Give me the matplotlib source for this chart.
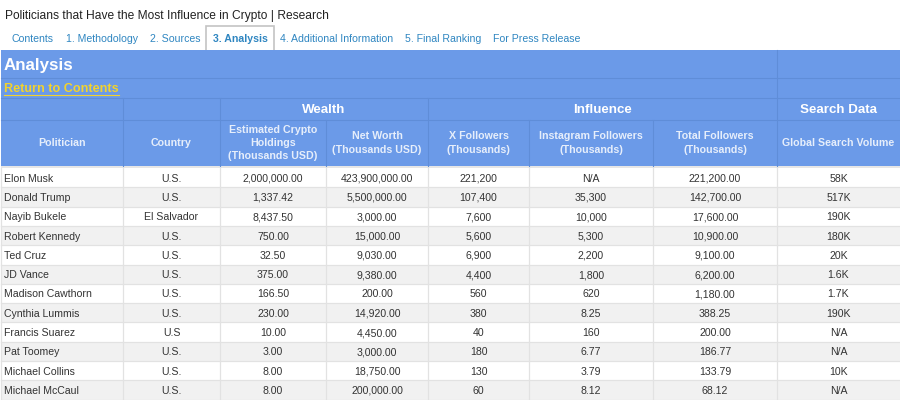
#! /usr/bin/env python3
# -*- coding: utf-8 -*-

import matplotlib
matplotlib.use('Agg')
import matplotlib.pyplot as plt
from matplotlib.patches import Rectangle

plt.rcParams['font.family'] = ['Liberation Sans', 'DejaVu Sans']

title = 'Politicians that Have the Most Influence in Crypto | Research'
tabs = ['Contents', '1. Methodology', '2. Sources', '3. Analysis',
        '4. Additional Information', '5. Final Ranking', 'For Press Release']
groups = ['Wealth', 'Influence', 'Search Data']
headers = ['Politician', 'Country', 'Estimated Crypto\nHoldings\n(Thousands USD)',
           'Net Worth\n(Thousands USD)', 'X Followers\n(Thousands)',
           'Instagram Followers\n(Thousands)', 'Total Followers\n(Thousands)',
           'Global Search Volume']

politicians = ['Elon Musk', 'Donald Trump', 'Nayib Bukele', 'Robert Kennedy', 'Ted Cruz', 'JD Vance',
               'Madison Cawthorn', 'Cynthia Lummis', 'Francis Suarez', 'Pat Toomey', 'Michael Collins',
               'Michael McCaul']
countries = ['U.S.', 'U.S.', 'El Salvador', 'U.S.', 'U.S.', 'U.S.', 'U.S.', 'U.S.', 'U.S', 'U.S.', 'U.S.', 'U.S.']
crypto = ['2,000,000.00', '1,337.42', '8,437.50', '750.00', '32.50', '375.00', '166.50', '230.00', '10.00',
          '3.00', '8.00', '8.00']
net_worth = ['423,900,000.00', '5,500,000.00', '3,000.00', '15,000.00', '9,030.00', '9,380.00', '200.00',
             '14,920.00', '4,450.00', '3,000.00', '18,750.00', '200,000.00']
x_followers = ['221,200', '107,400', '7,600', '5,600', '6,900', '4,400', '560', '380', '40', '180', '130', '60']
instagram = ['N/A', '35,300', '10,000', '5,300', '2,200', '1,800', '620', '8.25', '160', '6.77', '3.79', '8.12']
total = ['221,200.00', '142,700.00', '17,600.00', '10,900.00', '9,100.00', '6,200.00', '1,180.00', '388.25',
         '200.00', '186.77', '133.79', '68.12']
search = ['58K', '517K', '190K', '180K', '20K', '1.6K', '1.7K', '190K', 'N/A', 'N/A', '10K', 'N/A']

# layout in pixels
col_x = [1, 123, 220, 326, 428, 529, 653, 777, 900]
tab_x = [12, 66, 150, 213, 280, 405, 493]
row_h = 19.3
first_row = 168

BLUE = '#6b9ae8'
EDGE = '#5f8dd8'
TAB = '#2f86c1'
GRID = '#e2e2e2'

fig = plt.figure(figsize=(9, 4), dpi=100)
ax = fig.add_axes([0, 0, 1, 1])
ax.set_xlim(0, 900)
ax.set_ylim(400, 0)
ax.axis('off')

ax.text(5, 14, title, fontsize=8.65, color='#222222', va='center_baseline')

# tabs
ax.add_patch(Rectangle((206, 26), 68, 26, fc='white', ec='#c4c4c4', lw=1.2))
for s, x in zip(tabs, tab_x):
    active = s == '3. Analysis'
    ax.text(x, 38.5, s, fontsize=7.55, color=TAB, va='center_baseline', fontweight='bold' if active else 'normal')

# blue header block
ax.add_patch(Rectangle((1, 50), 899, 116, fc=BLUE, ec='none'))
for y in [78, 98, 120]:
    ax.plot([1, 900], [y, y], color=EDGE, lw=0.8)
ax.plot([777, 777], [50, 166], color=EDGE, lw=0.8)
for x in [123, 220, 428]:
    ax.plot([x, x], [98, 166], color=EDGE, lw=0.8)
for x in [326, 529, 653]:
    ax.plot([x, x], [120, 166], color=EDGE, lw=0.8)

ax.text(4, 64, 'Analysis', fontsize=12.2, color='white', fontweight='bold', va='center_baseline')
ax.text(4, 87.5, 'Return to Contents', fontsize=9.05, color='#f2d22e', fontweight='bold', va='center_baseline')
ax.plot([4, 119], [94.5, 94.5], color='#f2d22e', lw=0.8)

group_spans = [(220, 428), (428, 777), (777, 900)]
for s, (a, b) in zip(groups, group_spans):
    ax.text((a + b) / 2, 108.5, s, fontsize=9.6, color='white', fontweight='bold', ha='center', va='center_baseline')
for i, s in enumerate(headers):
    ax.text((col_x[i] + col_x[i + 1]) / 2, 143, s, fontsize=7.7, color='#e6eefb', fontweight='bold',
            ha='center', va='center', linespacing=1.42)

# data rows
columns = [politicians, countries, crypto, net_worth, x_followers, instagram, total, search]
ax.add_patch(Rectangle((1, 166), 899, 2, fc='#e6e6e6', ec='none'))
for r in range(len(politicians)):
    y = first_row + r * row_h
    ax.add_patch(Rectangle((1, y), 899, row_h, fc='#f1f1f1' if r % 2 else 'white', ec='none'))
    ax.plot([1, 900], [y + row_h, y + row_h], color=GRID, lw=0.9)
    for c, col in enumerate(columns):
        if c == 0:
            ax.text(4, y + row_h / 2, col[r], fontsize=7.6, color='#333333', va='center_baseline')
        else:
            ax.text((col_x[c] + col_x[c + 1]) / 2, y + row_h / 2, col[r], fontsize=7.6, color='#333333',
                    ha='center', va='center_baseline')
bottom = first_row + len(politicians) * row_h
for x in col_x[:-1]:
    ax.plot([x, x], [first_row, bottom], color=GRID, lw=0.9)

fig.savefig('out.png', dpi=100)
